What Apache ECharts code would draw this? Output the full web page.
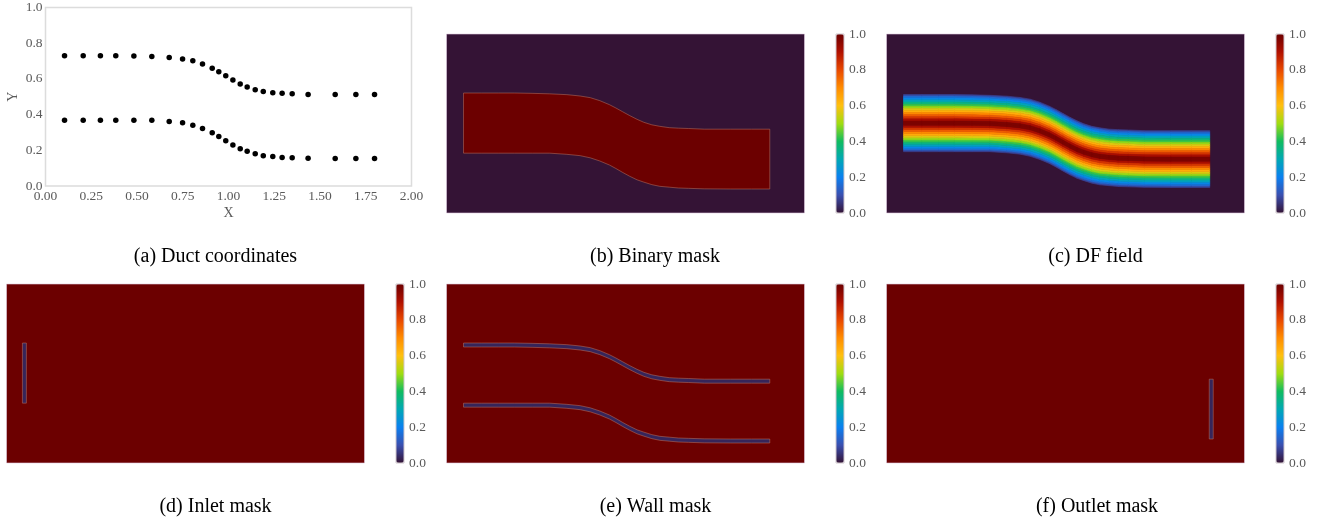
<!DOCTYPE html>
<html>
<head>
<meta charset="utf-8">
<style>
html,body{margin:0;padding:0;background:#fff}
#main{width:1327px;height:521px}
#main canvas[data-zr-dom-id="zr_0"]{filter:blur(0.5px)}
</style>
<script src="https://cdn.jsdelivr.net/npm/echarts@6/dist/echarts.min.js"></script>
</head>
<body>
<div id="main"></div>
<script>
// ---- data ----
const stationX = [0.104,0.206,0.30,0.384,0.483,0.581,0.676,0.749,0.805,0.858,0.911,0.947,0.985,1.024,1.064,1.102,1.146,1.19,1.242,1.293,1.348,1.435,1.583,1.696,1.798];
const upperY = [0.730,0.730,0.730,0.730,0.728,0.725,0.720,0.712,0.702,0.684,0.660,0.640,0.617,0.594,0.572,0.554,0.539,0.530,0.522,0.519,0.517,0.513,0.513,0.513,0.513];
const lowerY = [0.369,0.369,0.369,0.369,0.369,0.369,0.362,0.354,0.341,0.322,0.298,0.277,0.253,0.230,0.209,0.195,0.180,0.170,0.165,0.160,0.158,0.155,0.154,0.154,0.154];
// DF field: position across the duct (0 = centre line, 1 = wall) and the value there
const dfOffsets = [0,0.07,0.14,0.21,0.28,0.35,0.42,0.49,0.56,0.63,0.70,0.77,0.84,0.90,0.95];
const dfValues  = [1.0,0.95,0.87,0.80,0.74,0.67,0.60,0.52,0.46,0.39,0.32,0.25,0.18,0.12,0.04];
const inletX = 0.109, outletX = 1.806, slotHalf = 0.011, wallHalf = 0.012, wallShift = 0.012, maskLow = 0.03;
const panelTicks = [0,0.2,0.4,0.6,0.8,1.0];
const captions = ['(a) Duct coordinates','(b) Binary mask','(c) DF field','(d) Inlet mask','(e) Wall mask','(f) Outlet mask'];
const colormap = ['#341335','#3a4fb0','#0a80f0','#00a8b4','#10bc60','#a0dc10','#ffc010','#ff8c00','#e84800','#b01000','#6c0000'];

// ---- layout ----
const PW = 358, PH = 179;
const panels = [
 {key:'b',left:446.5,top:34, cap:[655,247]},
 {key:'c',left:886.5,top:34, cap:[1095.5,247]},
 {key:'d',left:6.5,  top:284,cap:[215.5,497]},
 {key:'e',left:446.5,top:284,cap:[655.5,497]},
 {key:'f',left:886.5,top:284,cap:[1097,497]}
];
const XR = [0.01,1.99], YR = [0.01,1.084];
const base = [[XR[0],YR[0]],[XR[1],YR[0]],[XR[1],YR[1]],[XR[0],YR[1]]];

// ---- shapes from the wall arrays ----
function ductPoly(){
  const p = stationX.map((x,i)=>[x,upperY[i]]);
  for(let i=stationX.length-1;i>=0;i--) p.push([stationX[i],lowerY[i]]);
  return p;
}
function ribbon(ys){
  const p = stationX.map((x,i)=>[x,ys[i]+wallHalf-wallShift]);
  for(let i=stationX.length-1;i>=0;i--) p.push([stationX[i],ys[i]-wallHalf-wallShift]);
  return p;
}
function slot(x,i){ return [[x-slotHalf,upperY[i]],[x+slotHalf,upperY[i]],[x+slotHalf,lowerY[i]],[x-slotHalf,lowerY[i]]]; }
const EDGE_FRAME = 'rgba(225,205,225,0.6)';
const EDGE_SHAPE = 'rgba(190,120,100,0.5)';
const last = stationX.length-1;

function dfShapes(){
  const s = [{pts:base,v:0,edge:EDGE_FRAME}];
  const yAt=(i,t)=>{const c=(upperY[i]+lowerY[i])/2,h=(upperY[i]-lowerY[i])/2;return c+t*h;};
  for(let sign of [1,-1]){
    for(let j=dfOffsets.length-1;j>0;j--){
      const a=dfOffsets[j-1]*sign,b=dfOffsets[j]*sign,v=(dfValues[j-1]+dfValues[j])/2;
      for(let i=0;i<last;i++){
        s.push({pts:[[stationX[i],yAt(i,a)],[stationX[i+1],yAt(i+1,a)],[stationX[i+1],yAt(i+1,b)],[stationX[i],yAt(i,b)]],v,edge:'self'});
      }
    }
  }
  return s;
}
const shapes = {
  b:[{pts:base,v:0,edge:EDGE_FRAME},{pts:ductPoly(),v:1,edge:EDGE_SHAPE}],
  c:dfShapes(),
  d:[{pts:base,v:1,edge:EDGE_FRAME},{pts:slot(inletX,0),v:maskLow,edge:EDGE_SHAPE}],
  e:[{pts:base,v:1,edge:EDGE_FRAME},{pts:ribbon(upperY),v:maskLow,edge:EDGE_SHAPE},{pts:ribbon(lowerY),v:maskLow,edge:EDGE_SHAPE}],
  f:[{pts:base,v:1,edge:EDGE_FRAME},{pts:slot(outletX,last),v:maskLow,edge:EDGE_SHAPE}]
};

// ---- options ----
const FONT = '"Liberation Serif","Times New Roman",serif';
const GREY = '#5a5a5a';
const grids=[{left:45.5,top:7.5,width:366,height:178.5,show:true,backgroundColor:'#fff',borderColor:'#dcdcdc',borderWidth:1.5}];
const xAxes=[{gridIndex:0,type:'value',min:0,max:2,interval:0.25,name:'X',nameLocation:'middle',nameGap:20,
  nameTextStyle:{fontFamily:FONT,fontSize:14,color:GREY},axisLine:{show:false},axisTick:{show:false},splitLine:{show:false},
  axisLabel:{margin:3,fontFamily:FONT,fontSize:13.5,color:GREY,formatter:v=>v.toFixed(2),hideOverlap:false,showMinLabel:true,showMaxLabel:true}}];
const yAxes=[{gridIndex:0,type:'value',min:0,max:1,interval:0.2,name:'Y',nameLocation:'middle',nameGap:25,
  nameTextStyle:{fontFamily:FONT,fontSize:14,color:GREY},axisLine:{show:false},axisTick:{show:false},splitLine:{show:false},
  axisLabel:{margin:3,fontFamily:FONT,fontSize:13.5,color:GREY,formatter:v=>v.toFixed(1),showMinLabel:true,showMaxLabel:true}}];
const series=[
 {type:'scatter',xAxisIndex:0,yAxisIndex:0,symbolSize:5.5,itemStyle:{color:'#000',opacity:1},silent:true,data:stationX.map((x,i)=>[x,upperY[i]])},
 {type:'scatter',xAxisIndex:0,yAxisIndex:0,symbolSize:5.5,itemStyle:{color:'#000',opacity:1},silent:true,data:stationX.map((x,i)=>[x,lowerY[i]])}
];
const visualMaps=[];
panels.forEach((p,k)=>{
  const gi=grids.length;
  grids.push({left:p.left,top:p.top,width:PW,height:PH});
  xAxes.push({gridIndex:gi,type:'value',min:XR[0],max:XR[1],show:false});
  yAxes.push({gridIndex:gi,type:'value',min:YR[0],max:YR[1],show:false});
  const list=shapes[p.key];
  const si=series.length;
  series.push({type:'custom',xAxisIndex:gi,yAxisIndex:gi,clip:false,silent:true,animation:false,
    encode:{x:-1,y:-1},dimensions:['idx','value'],
    data:list.map((s,i)=>[i,s.v]),
    renderItem:(params,api)=>{
      const s=list[api.value(0)];
      const color=api.visual('color');
      return {type:'polygon',shape:{points:s.pts.map(q=>api.coord(q))},
        style:{fill:color,stroke:s.edge==='self'?color:s.edge,lineWidth:s.edge==='self'?0.6:1}};
    }});
  const cbLeft=p.left+389.5;
  visualMaps.push({type:'continuous',min:0,max:1,dimension:1,seriesIndex:si,show:true,calculable:false,hoverLink:false,
    left:cbLeft,top:p.top,itemWidth:8,itemHeight:PH,padding:0,showLabel:false,text:null,
    borderColor:'transparent',inRange:{color:colormap}});
  // colour-bar scale
  const gc=grids.length;
  grids.push({left:cbLeft,top:p.top,width:8,height:PH,show:true,borderColor:'#cfc6cc',borderWidth:1,backgroundColor:'transparent',z:5});
  xAxes.push({gridIndex:gc,type:'value',show:false,min:0,max:1});
  yAxes.push({gridIndex:gc,type:'value',position:'right',min:panelTicks[0],max:panelTicks[panelTicks.length-1],interval:0.2,
    axisLine:{show:false},axisTick:{show:false},splitLine:{show:false},
    axisLabel:{margin:5,fontFamily:FONT,fontSize:13.5,color:GREY,formatter:v=>v.toFixed(1),showMinLabel:true,showMaxLabel:true}});
});
const capPos=[[215.5,247]].concat(panels.map(p=>p.cap));
const titles=captions.map((t,i)=>({text:t,left:capPos[i][0],top:capPos[i][1],textAlign:'center',padding:0,zlevel:1,
  textStyle:{fontFamily:FONT,fontSize:20,fontWeight:'normal',color:'#000'}}));

const chart=echarts.init(document.getElementById('main'),null,{renderer:'canvas'});
chart.setOption({animation:false,backgroundColor:'#fff',title:titles,grid:grids,xAxis:xAxes,yAxis:yAxes,visualMap:visualMaps,series:series});
</script>
</body>
</html>
